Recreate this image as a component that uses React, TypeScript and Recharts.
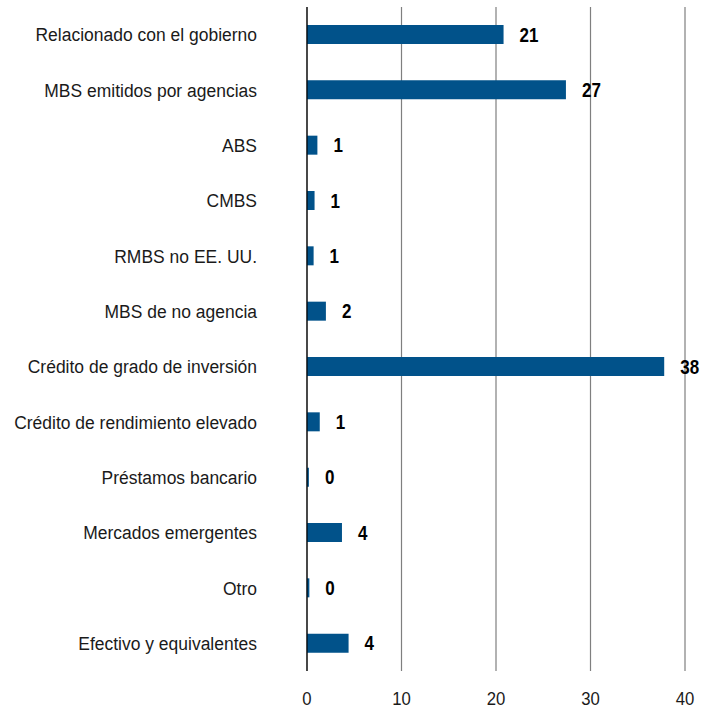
import { Bar, BarChart, CartesianGrid, LabelList, XAxis, YAxis } from "recharts";

// Holdings by sector (%)
const categories = [
  "Relacionado con el gobierno",
  "MBS emitidos por agencias",
  "ABS",
  "CMBS",
  "RMBS no EE. UU.",
  "MBS de no agencia",
  "Crédito de grado de inversión",
  "Crédito de rendimiento elevado",
  "Préstamos bancario",
  "Mercados emergentes",
  "Otro",
  "Efectivo y equivalentes",
];
const values = [20.8, 27.4, 1.1, 0.8, 0.7, 2.0, 37.8, 1.35, 0.2, 3.7, 0.25, 4.4];
const xTicks = [0, 10, 20, 30, 40];

const FONT = "'Liberation Sans', Arial, sans-serif";

// no narrow font installed, so squeeze the glyphs horizontally instead
function CategoryTick(props: any) {
  const { x, y, payload } = props;
  return (
    <text
      transform={`translate(${x},${y}) scale(0.92,1)`}
      textAnchor="end"
      dy="0.355em"
      fill="#1a1a1a"
      fontSize={19}
      fontFamily={FONT}
    >
      {payload.value}
    </text>
  );
}

function ValueTick(props: any) {
  const { x, y, payload } = props;
  return (
    <text
      transform={`translate(${x},${y}) scale(0.88,1)`}
      textAnchor="middle"
      dy="0.71em"
      fill="#1a1a1a"
      fontSize={19}
      fontFamily={FONT}
    >
      {payload.value}
    </text>
  );
}

function BarValueLabel(props: any) {
  const { x, y, width, height, value } = props;
  const tx = Number(x) + Number(width) + 16;
  const ty = Number(y) + Number(height) / 2;
  return (
    <text
      transform={`translate(${tx},${ty}) scale(0.85,1)`}
      textAnchor="start"
      dy="0.355em"
      fill="#000"
      fontSize={20}
      fontWeight="bold"
      fontFamily={FONT}
    >
      {Math.round(Number(value))}
    </text>
  );
}

export default function App() {
  const data = categories.map((name, i) => ({ name, value: values[i] }));

  return (
    <div style={{ position: "absolute", left: 0, top: 0, width: 701, height: 710, background: "#fff" }}>
      <BarChart
        width={701}
        height={710}
        data={data}
        layout="vertical"
        margin={{ top: 7, right: 16, bottom: 0, left: 0 }}
      >
        <CartesianGrid horizontal={false} stroke="#7f7f7f" strokeWidth={1.2} />
        <XAxis
          type="number"
          domain={[0, 40]}
          ticks={xTicks}
          height={39}
          axisLine={false}
          tickLine={false}
          tickSize={0}
          tickMargin={20}
          tick={<ValueTick />}
        />
        <YAxis
          type="category"
          dataKey="name"
          width={307}
          axisLine={{ stroke: "#000", strokeWidth: 1.2 }}
          tickLine={false}
          tickSize={0}
          tickMargin={50}
          interval={0}
          tick={<CategoryTick />}
        />
        <Bar dataKey="value" fill="#01528a" barSize={19} isAnimationActive={false}>
          <LabelList dataKey="value" content={<BarValueLabel />} />
        </Bar>
      </BarChart>
    </div>
  );
}
